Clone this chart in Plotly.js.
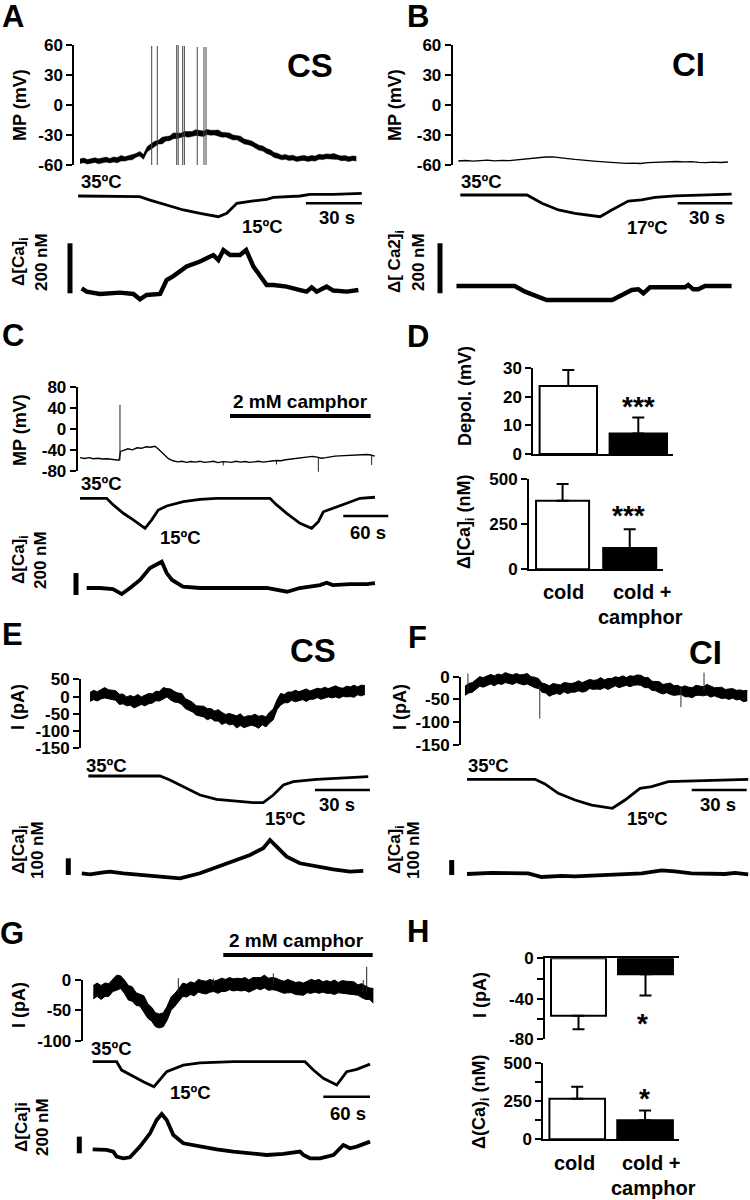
<!DOCTYPE html>
<html><head><meta charset="utf-8">
<script src="https://cdn.plot.ly/plotly-3.0.1.min.js"></script>
<style>html,body{margin:0;padding:0;background:#fff}#chart{width:750px;height:1200px}</style>
</head><body><div id="chart"></div>
<script>
// ---------------- DATA ----------------
// Panel A (CS neuron, current clamp): membrane potential drawn as a noisy band (upper / lower edge)
const aMpT = [0,2,4,6,8,10,12,14,16,18,20,22,24,26,28,30,32,34,36,38,40,42,44,46,48,50,52,54,56,58,60,62,64,66,68,70,72,74,76,78,80,82,84,86,88,90,92,94,96,98,100,102,104,106,108,110,112,114,116,118,120,122,124,126,128,130,132,134,136,138,140,142,144,146,148];
const aMpHi = [-54,-53,-54.5,-53.5,-52.8,-53.8,-53.3,-52.1,-53.5,-52,-52.5,-50.5,-51.7,-50.6,-49,-48.5,-46.4,-49.4,-41.6,-39,-36.2,-35.3,-32.3,-31.5,-31,-27.9,-28.3,-28.2,-26.5,-26.4,-26.5,-24.7,-25.6,-26.1,-24.4,-25.3,-25.3,-25,-27.2,-27.6,-28,-30,-30.4,-31.2,-34.1,-35,-36,-38.3,-40.3,-41.1,-43.6,-44.8,-47.5,-48.4,-50.2,-49.5,-50.7,-50.2,-51.7,-51,-50.4,-51.5,-50.6,-51.1,-49.2,-49.8,-48.9,-49.2,-48.5,-50.1,-51,-50.5,-51.8,-51,-51.3];
const aMpLo = [-58.5,-57.7,-59,-58,-57.4,-58.8,-57.9,-57.1,-57.9,-57,-57.8,-55.9,-56.1,-55,-54.8,-52.2,-51,-54.3,-46.8,-44.1,-41.4,-39,-38.9,-35.9,-35.7,-33.7,-33.5,-32.5,-31.3,-32.2,-31.1,-30.5,-30.9,-31.4,-29.6,-30.2,-29.9,-30.9,-32.2,-32,-33.6,-35,-34.8,-36.9,-39.1,-39.7,-40.9,-43.3,-45.3,-46.1,-48.6,-49.9,-52.5,-53.4,-54.8,-54.3,-55.5,-55.1,-56.5,-55.8,-55.4,-56.4,-55.7,-56.1,-54.3,-54.6,-53.7,-54,-53.9,-54.4,-55.7,-55.6,-56.5,-55.5,-56];
const aSpikeT = [38.4,41.4,51.8,52.6,55.0,55.9,62.8,66.4,67.5];
const aSpikeFrom = [-60,-60,-60,-60,-60,-60,-60,-60,-60];
const aSpikeTo = [59,59,60,60,59,59,58,58,58];
const aTempT = [-1,32,37.5,46.4,55.4,64.3,74.1,78.6,84,92.9,100,103.6,117.9,123.2,135.7,150.9];
const aTempV = [35,34.4,31.1,26.3,21.5,18.3,15,18.3,28,30.2,31.8,33.7,35,36.6,36.6,37.6];
const aCaT = [0.9,3.6,10.7,17.9,21.4,28.6,32.1,35.7,41.1,42.9,46.4,50,57.1,64.3,71.4,74.1,76.8,80.4,85.7,89,92.9,100,103.6,110.7,117.9,121.4,124.1,126.8,132.1,135.7,142.9,149.1];
const aCaV = [20,6.7,-2.7,0,2.7,-2.7,-24,-6.7,-2.7,-2.7,53,69,107,127,153,133,173,153,153,173,107,33,33,27,13,6.7,24,6.7,27,11,6.7,13];

// Panel B (CI neuron, current clamp)
const bMpT = [0,4,8,12,16,20,24,28,32,36,40,44,48,52,56,60,64,68,72,76,80,84,88,92,96,100,104,108,112,116,120,124,128,132,136,140,144,148];
const bMpV = [-56,-55.5,-56.2,-55.6,-55.2,-55.8,-55.3,-55.7,-55,-54.4,-53.2,-52.3,-52,-51.8,-53,-53.6,-54.4,-54.8,-55.6,-56.3,-56.9,-57.5,-57.9,-58.4,-58.1,-58.5,-57.6,-57.2,-56.8,-56.9,-56.5,-56.9,-56.6,-57.3,-57.7,-57.2,-57.5,-57];
const bTempT = [1.1,37.7,45.9,55,64,77.8,84.2,93.3,100.6,108,119,137.2,150];
const bTempV = [35,35,28.1,22.6,19.8,17,22.6,30.0,30.9,33.1,34.2,35,35.8];
const bCaT = [-1,31,36.6,44,48.5,84.5,89.7,95.2,98.8,101.6,105.2,124.4,126.2,129,131.7,135.4,150];
const bCaV = [0,0,-22.7,-42.7,-56,-56,-36,-16,-13.3,-29.3,-5.3,-5.3,4,-13.3,-13.3,0,0];

// Panel C (camphor, current clamp)
const cMpT = [0,6,12,18,24,30,36,42,48,52,54,58,64,70,76,82,88,94,100,104,108,112,118,124,130,136,142,148,154,160,166,172,178,184,190,196,202,208,214,220,226,232,238,244,250,256,262,268,274,280,286,292,298,304,310,316,322,328,334,340,346,352,358,364,370,376,382,388,393];
const cMpV = [-55,-56.5,-55,-57,-56,-57.5,-57,-58,-58.5,-60,-43,-41,-38,-40,-36,-37,-34,-35,-33,-38,-44,-50,-57,-61,-63,-62,-64,-62.5,-63.5,-62,-64,-63,-62,-64.5,-62.5,-63,-64,-62,-63.5,-62.5,-64,-63,-62,-63.5,-62,-61.5,-60.5,-61,-59,-58,-57,-56,-55,-54,-52.5,-54,-56,-55,-53,-52,-51.5,-51,-50,-49.5,-50,-48.5,-49,-50,-52];
const cSpikeT = [53.3,191,262,317.8,388.9];
const cSpikeFrom = [-60,-62,-60,-55,-50];
const cSpikeTo = [46.5,-70,-68,-82,-69];
const cTempT = [0,35.6,44.4,57.8,71.1,86.7,95.6,104.4,115.6,137.8,160,182.2,253.3,262.2,275.6,293.3,308.9,317.8,324.4,337.8,355.6,373.3,393.3];
const cTempV = [35,35,30.6,25,20.6,15,20.6,27.2,29.9,32.8,34.3,35,35,30.6,25,18.3,15,19.4,26,28.3,31.7,35,35.7];
const cCaT = [8.9,26.7,44,55.6,66.7,80,93.3,109,115.6,122.7,137.3,160,204,249,276,293,320,329,337,360,382.7,393.3];
const cCaV = [0,0,-9,-55,0,73,182,239,136,73,12,0,0,0,-34,0,27,48,27,36,36,45];

// Panel E (CS neuron, voltage clamp): current drawn as a noisy band
const eIT = [0,2,4,6,8,10,12,14,16,18,20,22,24,26,28,30,32,34,36,38,40,42,44,46,48,50,52,54,56,58,60,62,64,66,68,70,72,74,76,78,80,82,84,86,88,90,92,94,96,98,100,102,104,106,108,110,112,114,116,118,120,122,124,126,128,130,132,134,136,138,140,142,144,146,148,150];
const eIHi = [12,18,14,20,26,20,19,17,7,7,-1,3,-1,6,-1,4,9,8,15,15,26,23,22,15,10,9,-6,-11,-17,-27,-28,-28,-35,-35,-42,-38,-46,-52,-49,-53,-56,-50,-60,-56,-56,-51,-57,-55,-59,-45,-36,-10,9,6,13,13,18,14,18,22,16,21,24,22,27,23,27,31,26,24,30,28,33,28,33,32];
const eILo = [-14,-9,-13,-7,-4,-7,-9,-11,-23,-21,-27,-25,-33,-27,-23,-27,-21,-19,-12,-13,-6,-1,-10,-16,-17,-23,-35,-40,-45,-54,-57,-59,-67,-63,-71,-71,-81,-76,-82,-80,-91,-84,-90,-87,-83,-86,-92,-82,-88,-76,-67,-38,-25,-18,-18,-11,-15,-12,-9,-14,-8,-8,-3,-8,-4,-1,-4,-1,-5,1,-1,0,-2,5,2,6];
const eTempT = [-0.9,38.2,43.6,49.1,60,69.1,78.2,89.1,94.5,100,105.5,110.9,123.6,132.7,151.8];
const eTempV = [35,35,32,28.25,20.75,17.5,16.25,15,15,20.75,28.25,30.75,32.5,33.25,34.5];
const eCaT = [-4.5,0,7.3,10.9,18.2,30.9,41.8,49.1,60,69.1,78.2,87.3,94.5,98.2,101.8,107.3,114.5,123.6,132.7,141.8,149.1];
const eCaV = [0,-6,6,10,0,-10,-20,-30,0,36,70,110,150,200,160,100,60,40,24,10,14];

// Panel F (CI neuron, voltage clamp)
const fIT = [0,2,4,6,8,10,12,14,16,18,20,22,24,26,28,30,32,34,36,38,40,42,44,46,48,50,52,54,56,58,60,62,64,66,68,70,72,74,76,78,80,82,84,86,88,90,92,94,96,98,100,102,104,106,108,110,112,114,116,118,120,122,124,126,128,130,132,134,136,138,140,142,144,146,148,150,152,154];
const fIHi = [-21,-15,-13,-6,0,-2,1,5,2,6,4,9,6,4,7,4,5,7,0,-1,-4,-14,-16,-20,-15,-17,-18,-13,-14,-15,-13,-9,-13,-9,-6,-8,-7,-2,-7,-4,-4,0,-2,2,-2,2,1,4,3,-2,-2,-10,-10,-11,-17,-16,-14,-20,-19,-23,-20,-23,-24,-19,-20,-22,-17,-21,-24,-24,-23,-28,-27,-26,-30,-29,-31,-30];
const fILo = [-41,-36,-34,-27,-21,-23,-20,-16,-20,-15,-17,-13,-15,-17,-13,-15,-18,-16,-20,-24,-26,-34,-36,-43,-39,-37,-39,-33,-37,-34,-34,-31,-34,-32,-26,-28,-27,-28,-24,-28,-24,-20,-24,-21,-19,-22,-19,-18,-19,-24,-24,-30,-31,-35,-38,-35,-39,-41,-40,-39,-44,-44,-46,-41,-41,-42,-40,-45,-42,-45,-48,-47,-50,-47,-51,-50,-55,-53];
const fSpikeT = [1.6,40.8,117.8,130.4];
const fSpikeFrom = [-29,-20,-25,-30];
const fSpikeTo = [7,-92,-67,9];
const fTempT = [1.1,38.2,43.6,50.9,60,69.1,80.4,87.3,95.5,101.8,110.9,123.6,141.8,154.5];
const fTempV = [35,35,31.8,25.3,20.7,17.2,15,20.7,28.8,29.9,33.4,33.9,34.5,35];
const fCaT = [1.1,14.5,34.5,41.8,52.7,60,78.2,96.4,107.3,114.5,123.6,132.7,141.8,147.3,154.5];
const fCaV = [0,8,4,-20,-12,-16,-6,4,24,18,4,4,0,8,-2];

// Panel G (camphor, voltage clamp)
const gIT = [0,5,10,15,20,25,30,35,40,45,50,55,60,65,70,75,80,85,90,95,100,105,110,115,120,125,130,135,140,145,150,155,160,165,170,175,180,185,190,195,200,205,210,215,220,225,230,235,240,245,250,255,260,265,270,275,280,285,290,295,300,305,310,315,320,325,330,335,340,345,350,355,360];
const gIHi = [-9,-5,-9,-5,-6,1,8,7,0,-9,-11,-21,-23,-26,-39,-45,-54,-56,-54,-43,-28,-22,-14,-5,-7,-3,-5,1,-1,-2,1,-2,0,3,1,4,2,3,2,4,0,4,4,4,8,3,4,3,0,-2,1,-2,-4,-3,-5,-2,1,-1,1,-3,-1,-3,0,-4,-1,-2,-3,-3,-8,-6,-10,-13,-14];
const gILo = [-31,-27,-32,-27,-27,-19,-17,-14,-22,-33,-35,-42,-43,-52,-63,-68,-77,-79,-77,-66,-50,-43,-35,-27,-28,-24,-26,-20,-22,-23,-20,-19,-22,-19,-19,-16,-18,-17,-18,-17,-20,-17,-14,-16,-13,-17,-16,-17,-20,-22,-21,-21,-24,-24,-25,-21,-22,-20,-22,-20,-22,-22,-24,-21,-22,-23,-24,-24,-25,-29,-32,-32,-38];
const gSpikeT = [109.3,154.3,231.4,347,351.4];
const gSpikeFrom = [-24,-10,-6,-18,-20];
const gSpikeTo = [3,2.5,10.7,0,21.7];
const gTempT = [-0.8,30,36.4,51.4,64.3,78,85.7,94.3,115.7,137.1,180,272.1,282.9,295.7,312.9,325.7,338.6,355.7];
const gTempV = [35,35,28.3,23,19,15,20.3,27,32.3,34.1,35,35,28.3,21.7,16.3,27,28.9,33.1];
const gCaT = [-0.8,17.1,25.7,30,38.6,47.1,60,72.9,81.4,87.9,94.3,102.9,115.7,137.1,158.6,180,222.9,244.3,265.7,270,278.6,291.4,308.6,321.4,330,338.6,355.7];
const gCaV = [0,-8,-28,-88,-108,-96,32,192,352,424,352,172,72,32,0,-28,-68,-56,-28,-68,-108,-108,-68,52,12,32,92];

// Bar charts D and H
const categories = ['cold', 'cold + camphor'];
const dDepolMean = [23.8, 7.2];
const dDepolSem = [5.6, 5.6];
const dCaMean = [381, 118];
const dCaSem = [93, 104];
const hIMean = [-56.7, -15.7];
const hISem = [13.3, 21];
const hCaMean = [264, 124];
const hCaSem = [79, 64];

// ---------------- LAYOUT HELPERS ----------------
const W = 750, H = 1200;
const FONT = 'Liberation Sans, Arial, Helvetica, sans-serif';
const tickFont = {family: FONT, size: 17, color: '#000', weight: 'bold'};
const layout = {width: W, height: H, margin: {l: 0, r: 0, t: 0, b: 0}, showlegend: false,
  paper_bgcolor: '#fff', plot_bgcolor: 'rgba(0,0,0,0)', annotations: [], shapes: []};
const traces = [];
const hidden = {visible: false, showgrid: false, zeroline: false, fixedrange: true};
function axName(n, k) { return n === 1 ? k + 'axis' : k + 'axis' + n; }
function axRef(n, k) { return n === 1 ? k : k + n; }
function xdom(p0, p1, pRef, vRef, per) { return {domain: [p0 / W, p1 / W], range: [vRef + (p0 - pRef) * per, vRef + (p1 - pRef) * per]}; }
function ydom(pTop, pBot, pRef, vRef, per) { return {domain: [1 - pBot / H, 1 - pTop / H], range: [vRef - (pBot - pRef) * per, vRef + (pRef - pTop) * per]}; }
function boldTicks(vals, labels) { return (labels || vals.map(String)).map(s => s === '' ? '' : '<b>' + s + '</b>'); }
function spikeXY(ts, from, to) {
  const x = [], y = [];
  ts.forEach((t, i) => { x.push(t, t, null); y.push(from[i], to[i], null); });
  return {x, y};
}
function txt(text, px, py, size, extra) {
  return Object.assign({text: text, x: px / W, y: 1 - py / H, xref: 'paper', yref: 'paper', showarrow: false,
    xanchor: 'center', yanchor: 'middle', font: {family: FONT, size: size, color: '#000', weight: 'bold'}}, extra || {});
}
function rot(text, px, py, size) { return txt(text, px, py, size, {textangle: -90}); }

function addTracePanel(c) {
  const xr = axRef(c.xi, 'x');
  layout[axName(c.xi, 'x')] = Object.assign(xdom(c.xDom[0], c.xDom[1], c.t0px, 0, 1 / c.pxPerS), hidden);
  const f = c.frame, per = (f.vTop - f.vBot) / (f.bot - f.top);
  layout[axName(c.yi, 'y')] = Object.assign(ydom(f.top, f.bot, f.top, f.vTop, per), {
    anchor: 'free', position: f.axisX / W, showline: true, linewidth: 2, linecolor: '#000',
    ticks: 'outside', ticklen: 6, tickwidth: 2, tickcolor: '#000', tickvals: f.ticks, ticktext: boldTicks(f.ticks),
    tickfont: tickFont, showgrid: false, zeroline: false, fixedrange: true});
  layout[axName(c.yi + 1, 'y')] = Object.assign(ydom(f.top - 40, f.bot + 40, f.top, f.vTop, per), hidden);
  layout[axName(c.yi + 2, 'y')] = Object.assign(ydom(c.temp.top, c.temp.bot, c.temp.refPx, c.temp.refV, c.temp.perPx), hidden);
  layout[axName(c.yi + 3, 'y')] = Object.assign(ydom(c.ca.top, c.ca.bot, c.ca.refPx, 0, c.ca.perPx), hidden);
  const ys = axRef(c.yi + 1, 'y');
  traces.push({type: 'scatter', mode: 'lines', x: [], y: [], xaxis: xr, yaxis: axRef(c.yi, 'y'), hoverinfo: 'skip'});
  if (c.band) {
    const ew = c.edgeW || 1;
    traces.push({type: 'scatter', mode: 'lines', x: c.sigT, y: c.band[1], xaxis: xr, yaxis: ys,
      line: {color: '#000', width: ew}, hoverinfo: 'skip'});
    traces.push({type: 'scatter', mode: 'lines', x: c.sigT, y: c.band[0], xaxis: xr, yaxis: ys,
      line: {color: '#000', width: ew}, fill: 'tonexty', fillcolor: '#000', hoverinfo: 'skip'});
  } else {
    traces.push({type: 'scatter', mode: 'lines', x: c.sigT, y: c.sigV, xaxis: xr, yaxis: ys,
      line: {color: '#000', width: c.sigW}, hoverinfo: 'skip'});
  }
  if (c.spikes) {
    const s = spikeXY(c.spikes[0], c.spikes[1], c.spikes[2]);
    traces.push({type: 'scatter', mode: 'lines', x: s.x, y: s.y, xaxis: xr, yaxis: ys,
      line: {color: c.spikeColor || '#000', width: 1}, connectgaps: false, hoverinfo: 'skip'});
  }
  traces.push({type: 'scatter', mode: 'lines', x: c.tempT, y: c.tempV, xaxis: xr, yaxis: axRef(c.yi + 2, 'y'),
    line: {color: '#000', width: 2.8}, hoverinfo: 'skip'});
  traces.push({type: 'scatter', mode: 'lines', x: c.caT, y: c.caV, xaxis: xr, yaxis: axRef(c.yi + 3, 'y'),
    line: {color: '#000', width: c.caW}, hoverinfo: 'skip'});
  layout.shapes.push({type: 'line', xref: xr, yref: 'paper', x0: c.timeBar.t0, x1: c.timeBar.t0 + c.timeBar.len,
    y0: 1 - c.timeBar.py / H, y1: 1 - c.timeBar.py / H, line: {color: '#000', width: 2.6}});
  layout.shapes.push({type: 'line', xref: 'paper', yref: axRef(c.yi + 3, 'y'), x0: c.caBar.px / W, x1: c.caBar.px / W,
    y0: c.caBar.v0, y1: c.caBar.v0 + c.caBar.len, line: {color: '#000', width: 5}});
  if (c.camphor) {
    layout.shapes.push({type: 'line', xref: xr, yref: 'paper', x0: c.camphor.t0, x1: c.camphor.t1,
      y0: 1 - c.camphor.py / H, y1: 1 - c.camphor.py / H, line: {color: '#000', width: 4}});
  }
}

function addBars(xi, yi, xd, yd, yRange, ticks, ticktext, means, sems, down, bw, sideTop) {
  layout[axName(xi, 'x')] = {domain: [xd[0] / W, xd[1] / W], range: [-0.5, 1.5], type: 'category',
    showline: true, linewidth: 2, linecolor: '#000', ticks: '', showticklabels: false, showgrid: false,
    zeroline: false, side: sideTop ? 'top' : 'bottom', anchor: axRef(yi, 'y'), fixedrange: true};
  layout[axName(yi, 'y')] = {domain: [1 - yd[1] / H, 1 - yd[0] / H], range: yRange, anchor: axRef(xi, 'x'),
    showline: true, linewidth: 2, linecolor: '#000', ticks: 'outside', ticklen: 6, tickwidth: 2, tickcolor: '#000',
    tickvals: ticks, ticktext: boldTicks(ticks, ticktext), tickfont: tickFont, showgrid: false, zeroline: false, fixedrange: true};
  traces.push({type: 'bar', x: categories, y: means, width: bw,
    marker: {color: ['#fff', '#000'], line: {color: '#000', width: 2}},
    error_y: {type: 'data', symmetric: false, array: down ? [0, 0] : sems, arrayminus: down ? sems : [0, 0],
      color: '#000', thickness: 2, width: 6},
    xaxis: axRef(xi, 'x'), yaxis: axRef(yi, 'y'), hoverinfo: 'skip'});
}

// ---------------- PANELS ----------------
addTracePanel({xi: 1, yi: 1, xDom: [60, 372], t0px: 80, pxPerS: 1.867,
  frame: {top: 45, bot: 165, vTop: 60, vBot: -60, ticks: [-60, -30, 0, 30, 60], axisX: 73.3},
  temp: {top: 170, bot: 240, refPx: 196, refV: 35, perPx: 0.966},
  ca: {top: 225, bot: 320, refPx: 293.3, perPx: 4},
  sigT: aMpT, band: [aMpHi, aMpLo], edgeW: 0.5, spikes: [aSpikeT, aSpikeFrom, aSpikeTo], spikeColor: '#444',
  tempT: aTempT, tempV: aTempV, caT: aCaT, caV: aCaV, caW: 4.4,
  timeBar: {t0: 121, len: 30, py: 203.3}, caBar: {px: 70, v0: 0, len: 200}});

addTracePanel({xi: 2, yi: 5, xDom: [440, 745], t0px: 458.3, pxPerS: 1.822,
  frame: {top: 45, bot: 165, vTop: 60, vBot: -60, ticks: [-60, -30, 0, 30, 60], axisX: 451.7},
  temp: {top: 170, bot: 240, refPx: 195, refV: 35, perPx: 0.829},
  ca: {top: 225, bot: 320, refPx: 286, perPx: 4},
  sigT: bMpT, sigV: bMpV, sigW: 1.3,
  tempT: bTempT, tempV: bTempV, caT: bCaT, caV: bCaV, caW: 4.4,
  timeBar: {t0: 120.4, len: 30, py: 203.3}, caBar: {px: 440, v0: -29, len: 200}});

addTracePanel({xi: 3, yi: 9, xDom: [60, 395], t0px: 80, pxPerS: 0.75,
  frame: {top: 387.3, bot: 470.7, vTop: 80, vBot: -80, ticks: [-80, -40, 0, 40, 80], axisX: 76.7},
  temp: {top: 480, bot: 550, refPx: 498.3, refV: 35, perPx: 0.667},
  ca: {top: 540, bot: 610, refPx: 588, perPx: 9.1},
  sigT: cMpT, sigV: cMpV, sigW: 1.4, spikes: [cSpikeT, cSpikeFrom, cSpikeTo], spikeColor: '#222',
  tempT: cTempT, tempV: cTempV, caT: cCaT, caV: cCaV, caW: 3.8,
  timeBar: {t0: 351, len: 60, py: 516}, caBar: {px: 76, v0: -64, len: 200},
  camphor: {t0: 200, t1: 387.6, py: 416}});

addTracePanel({xi: 4, yi: 13, xDom: [70, 375], t0px: 90, pxPerS: 1.833,
  frame: {top: 679.3, bot: 748.3, vTop: 50, vBot: -150, ticks: [-150, -100, -50, 0, 50], axisX: 80},
  temp: {top: 755, bot: 820, refPx: 776, refV: 35, perPx: 0.75},
  ca: {top: 820, bot: 895, refPx: 873.3, perPx: 6},
  sigT: eIT, band: [eIHi, eILo],
  tempT: eTempT, tempV: eTempV, caT: eCaT, caV: eCaV, caW: 3.8,
  timeBar: {t0: 122.7, len: 30, py: 790}, caBar: {px: 68.3, v0: -10, len: 100}});

addTracePanel({xi: 5, yi: 17, xDom: [445, 750], t0px: 465, pxPerS: 1.833,
  frame: {top: 676.7, bot: 745, vTop: 0, vBot: -150, ticks: [-150, -100, -50, 0], axisX: 460},
  temp: {top: 760, bot: 825, refPx: 779.3, refV: 35, perPx: 0.69},
  ca: {top: 830, bot: 895, refPx: 874, perPx: 6.67},
  sigT: fIT, band: [fIHi, fILo], spikes: [fSpikeT, fSpikeFrom, fSpikeTo], spikeColor: '#333',
  tempT: fTempT, tempV: fTempV, caT: fCaT, caV: fCaV, caW: 3.8,
  timeBar: {t0: 123.7, len: 30, py: 790}, caBar: {px: 451.7, v0: -7, len: 100}});

addTracePanel({xi: 6, yi: 21, xDom: [75, 378], t0px: 93.3, pxPerS: 0.778,
  frame: {top: 980, bot: 1040.7, vTop: 0, vBot: -100, ticks: [-100, -50, 0], axisX: 81.7},
  temp: {top: 1045, bot: 1110, refPx: 1061.7, refV: 35, perPx: 0.8},
  ca: {top: 1090, bot: 1170, refPx: 1149.3, perPx: 12},
  sigT: gIT, band: [gIHi, gILo], spikes: [gSpikeT, gSpikeFrom, gSpikeTo], spikeColor: '#222',
  tempT: gTempT, tempV: gTempV, caT: gCaT, caV: gCaV, caW: 3.8,
  timeBar: {t0: 295.6, len: 60, py: 1096.7}, caBar: {px: 79.3, v0: -48, len: 200},
  camphor: {t0: 167.1, t1: 359.1, py: 955}});

addBars(7, 25, [533.3, 673.3], [368.3, 454], [0, 30], [0, 10, 20, 30], null, dDepolMean, dDepolSem, false, 0.82, false);
addBars(8, 26, [529, 663.3], [479.3, 569.3], [0, 500], [0, 250, 500], null, dCaMean, dCaSem, false, 0.79, false);
addBars(9, 27, [545, 679], [958.3, 1039.3], [-80, 0], [-80, -60, -40, -20, 0], ['-80', '', '-40', '', '0'], hIMean, hISem, true, 0.82, true);
addBars(10, 28, [543.3, 679], [1062.7, 1139.3], [0, 500], [0, 125, 250, 375, 500], ['0', '', '250', '', '500'], hCaMean, hCaSem, false, 0.82, false);

// ---------------- TEXT ----------------
const A = layout.annotations;
[['A', 13, 17], ['B', 418, 17], ['C', 13, 335], ['D', 418, 337], ['E', 12, 634], ['F', 417, 637], ['G', 12, 933], ['H', 418, 931]]
  .forEach(p => A.push(txt(p[0], p[1], p[2], 31)));
A.push(txt('CS', 310, 65, 33), txt('CI', 688, 64, 33), txt('CS', 313, 650, 33), txt('CI', 705, 652, 33));
const TS = 18, CS = 17, LS = 18.5, KS = 20;
A.push(rot('MP (mV)', 20, 105, TS), rot('MP (mV)', 395, 105, TS), rot('MP (mV)', 20, 430, TS));
A.push(rot('I (pA)', 18, 707, TS), rot('I (pA)', 400, 707, TS), rot('I (pA)', 19, 1005, TS));
A.push(rot('Depol. (mV)', 465, 396, TS), rot('Δ[Ca]<sub>i</sub> (nM)', 465, 522, TS));
A.push(rot('I (pA)', 480, 995, TS), rot('Δ(Ca)<sub>i</sub> (nM)', 480, 1102, TS));
A.push(rot('Δ[Ca]<sub>i</sub>', 20, 262, CS), rot('200 nM', 42, 262, CS));
A.push(rot('Δ[ Ca2]<sub>i</sub>', 396, 262, CS), rot('200 nM', 419, 262, CS));
A.push(rot('Δ[Ca]<sub>i</sub>', 20, 560, CS), rot('200 nM', 40, 560, CS));
A.push(rot('Δ[Ca]<sub>i</sub>', 20, 850, CS), rot('100 nM', 37, 850, CS));
A.push(rot('Δ[Ca]<sub>i</sub>', 396, 850, CS), rot('100 nM', 413, 850, CS));
A.push(rot('Δ[Ca]i', 21, 1127, CS), rot('200 nM', 42, 1127, CS));
const Lf = {xanchor: 'left'};
A.push(txt('35ºC', 79, 182, LS, Lf), txt('15ºC', 262, 226, LS), txt('30 s', 337, 218, LS));
A.push(txt('35ºC', 459, 182, LS, Lf), txt('17ºC', 647, 227, LS), txt('30 s', 707, 218, LS));
A.push(txt('35ºC', 79, 483, LS, Lf), txt('15ºC', 180, 537, LS), txt('60 s', 368, 533, LS), txt('2 mM camphor', 300, 402, 19));
A.push(txt('35ºC', 84, 765, LS, Lf), txt('15ºC', 285, 818, LS), txt('30 s', 337, 804, LS));
A.push(txt('35ºC', 466, 765, LS, Lf), txt('15ºC', 647, 818, LS), txt('30 s', 718, 805, LS));
A.push(txt('35ºC', 89, 1048, LS, Lf), txt('15ºC', 190, 1092, LS), txt('60 s', 348, 1113, LS), txt('2 mM camphor', 296, 940, 19));
A.push(txt('***', 638, 406, 28), txt('***', 628, 516, 28), txt('*', 642, 1023, 28), txt('*', 644, 1098, 28));
A.push(txt('cold', 563, 592, KS), txt('cold +', 642, 592, KS), txt('camphor', 640, 617, KS));
A.push(txt('cold', 574, 1163, KS), txt('cold +', 651, 1163, KS), txt('camphor', 653, 1188, KS));

Plotly.newPlot('chart', traces, layout, {staticPlot: true, displayModeBar: false});
</script>
</body></html>
